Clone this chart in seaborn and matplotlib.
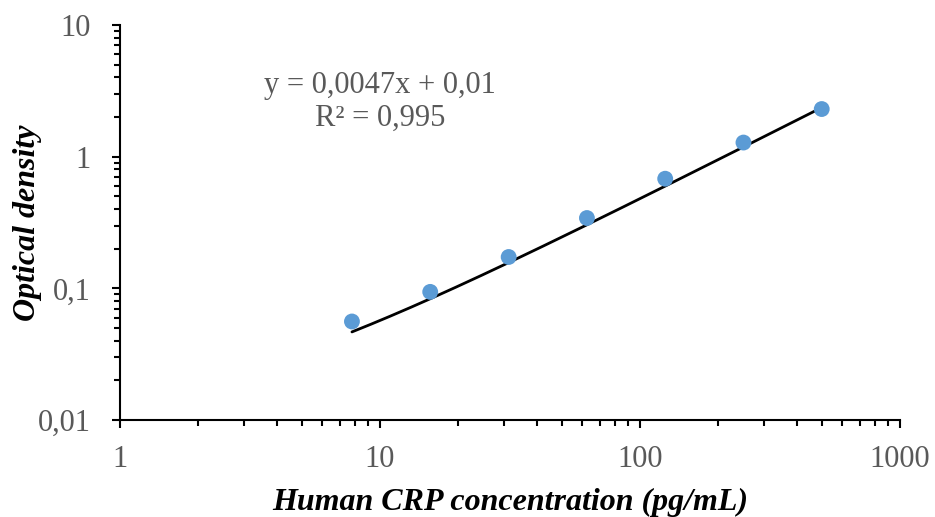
import numpy as np
import pandas as pd
import matplotlib
matplotlib.use("Agg")
import matplotlib.pyplot as plt
import seaborn as sns
from matplotlib.ticker import FixedLocator, LogLocator, NullFormatter

# ---- data ----
concentration = [7.8, 15.6, 31.25, 62.5, 125, 250, 500]
optical_density = [0.056, 0.094, 0.173, 0.342, 0.68, 1.28, 2.30]
trend_slope = 0.0047
trend_intercept = 0.01
x_ticks = [1, 10, 100, 1000]
x_tick_labels = ["1", "10", "100", "1000"]
y_ticks = [0.01, 0.1, 1, 10]
y_tick_labels = ["0,01", "0,1", "1", "10"]
equation_line = "y = 0,0047x + 0,01"
r2_line = "R² = 0,995"
x_label = "Human CRP concentration (pg/mL)"
y_label = "Optical density"

sns.set_theme(style="white")
plt.rcParams['font.family'] = ['Liberation Serif', 'DejaVu Serif']

fig = plt.figure(figsize=(9.35, 5.17), dpi=100)
ax = fig.add_axes([120/935, 1 - 420/517, 780/935, 395/517])

df = pd.DataFrame({"x": concentration, "y": optical_density})
trend_x = np.geomspace(min(concentration), max(concentration), 200)
trend_df = pd.DataFrame({"x": trend_x, "y": trend_slope * trend_x + trend_intercept})

sns.lineplot(data=trend_df, x="x", y="y", ax=ax, color="black", linewidth=2.0, zorder=2)
sns.scatterplot(data=df, x="x", y="y", ax=ax, color="#5B9BD5", s=130, edgecolor="none", zorder=3)

ax.set_xscale("log")
ax.set_yscale("log")
ax.set_xlim(1, 1000)
ax.set_ylim(0.01, 10)

ax.xaxis.set_major_locator(FixedLocator(x_ticks))
ax.set_xticklabels(x_tick_labels)
ax.yaxis.set_major_locator(FixedLocator(y_ticks))
ax.set_yticklabels(y_tick_labels)
ax.xaxis.set_minor_locator(LogLocator(base=10, subs=np.arange(2, 10)))
ax.yaxis.set_minor_locator(LogLocator(base=10, subs=np.arange(2, 10)))
ax.xaxis.set_minor_formatter(NullFormatter())
ax.yaxis.set_minor_formatter(NullFormatter())

for side in ["top", "right"]:
    ax.spines[side].set_visible(False)
for side in ["left", "bottom"]:
    ax.spines[side].set_color("black")
    ax.spines[side].set_linewidth(1.5)

ax.tick_params(axis="both", which="major", direction="out", length=6, width=1.5,
               color="black", labelsize=22, labelcolor="#595959", bottom=True, left=True)
ax.tick_params(axis="both", which="minor", direction="out", length=4.5, width=1.5,
               color="black", bottom=True, left=True)
ax.tick_params(axis="y", which="major", pad=15)
ax.tick_params(axis="x", which="major", pad=12)

ax.set_xlabel(x_label, fontsize=23, fontweight="bold", fontstyle="italic", color="black")
ax.set_ylabel(y_label, fontsize=23, fontweight="bold", fontstyle="italic", color="black")
ax.xaxis.set_label_coords(0.5, -0.172)
ax.yaxis.set_label_coords(-0.1, 0.5)

ax.text(260/780, (420-85)/395, equation_line, transform=ax.transAxes, ha="center", va="center",
        fontsize=22, color="#595959")
ax.text(260/780, (420-118)/395, r2_line, transform=ax.transAxes, ha="center", va="center",
        fontsize=22, color="#595959")

ax.grid(False)
fig.savefig("out.png", dpi=100)
